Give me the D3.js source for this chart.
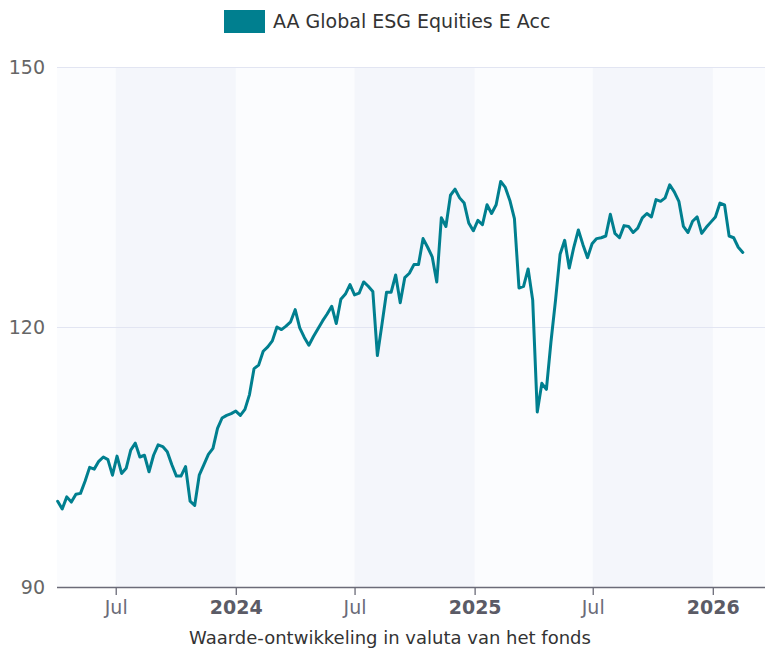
<!DOCTYPE html>
<html>
<head>
<meta charset="utf-8">
<script src="https://cdn.jsdelivr.net/npm/d3@7"></script>
<style>
  body { margin: 0; background: #ffffff; }
  text { font-family: "DejaVu Sans", sans-serif; }
</style>
</head>
<body>
<svg id="chart" width="765" height="652"></svg>
<script>
// Fund name shown in the legend
const seriesName = "AA Global ESG Equities E Acc";

// Weekly observations, first one on this date
const firstObservation = "2023-04-03";

// Indexed value of the fund, one per week
const values = [
  99.9, 99.0, 100.4, 99.8, 100.7, 100.8, 102.2, 103.8, 103.6, 104.5,
  105.0, 104.7, 102.9, 105.1, 103.1, 103.7, 105.8, 106.6, 105.0, 105.2,
  103.3, 105.2, 106.4, 106.2, 105.6, 104.1, 102.8, 102.8, 103.9, 99.9,
  99.4, 102.9, 104.1, 105.3, 106.0, 108.3, 109.5, 109.8, 110.0, 110.3,
  109.8, 110.5, 112.2, 115.2, 115.6, 117.2, 117.7, 118.4, 120.0, 119.7,
  120.1, 120.6, 122.0, 119.9, 118.8, 117.9, 118.9, 119.8, 120.7, 121.5,
  122.4, 120.4, 123.2, 123.8, 124.9, 123.7, 123.9, 125.2, 124.7, 124.1,
  116.7, 120.3, 124.0, 124.0, 126.0, 122.8, 125.7, 126.2, 127.2, 127.2,
  130.2, 129.2, 128.1, 125.2, 132.6, 131.6, 135.2, 135.9, 134.9, 134.3,
  132.0, 131.1, 132.3, 131.8, 134.1, 133.1, 134.1, 136.8, 136.1, 134.6,
  132.5, 124.5, 124.7, 126.7, 123.1, 110.2, 113.5, 112.8, 118.3, 123.1,
  128.4, 130.0, 126.8, 129.2, 131.2, 129.5, 128.0, 129.6, 130.2, 130.3,
  130.5, 133.0, 130.8, 130.3, 131.7, 131.6, 130.9, 131.4, 132.6, 133.1,
  132.7, 134.7, 134.5, 134.9, 136.4, 135.6, 134.5, 131.6, 130.9, 132.2,
  132.7, 130.8, 131.5, 132.1, 132.7, 134.3, 134.1, 130.5, 130.3, 129.2,
  128.6
];

// Axis ticks
const yTicks = [90, 120, 150];
const xTickDates = ["2023-07-01", "2024-01-01", "2024-07-01", "2025-01-01", "2025-07-01", "2026-01-01"];
const xTickLabels = ["Jul", "2024", "Jul", "2025", "Jul", "2026"];
const xTickBold = [false, true, false, true, false, true];

// Alternating half-year background bands
const bandStarts = ["2023-07-01", "2024-07-01", "2025-07-01"];
const bandEnds = ["2024-01-01", "2025-01-01", "2026-01-01"];

const axisTitle = "Waarde-ontwikkeling in valuta van het fonds";

// ---------------------------------------------------------------
const parse = d3.utcParse("%Y-%m-%d");
const start = parse(firstObservation);
const points = values.map((v, i) => ({ date: d3.utcDay.offset(start, 7 * i), value: v }));

const svg = d3.select("#chart");
const plot = { left: 57, right: 765, top: 67, bottom: 587 };

const x = d3.scaleUtc()
  .domain([parse("2023-04-02"), parse("2026-03-22")])
  .range([plot.left, plot.right]);

const y = d3.scaleLinear()
  .domain([90, 150])
  .range([plot.bottom, plot.top]);

const lineColor = "#007f8f";

// Plot background
svg.append("rect")
  .attr("x", plot.left).attr("y", plot.top)
  .attr("width", plot.right - plot.left).attr("height", plot.bottom - plot.top)
  .attr("fill", "#fbfcfe");

svg.append("g").selectAll("rect")
  .data(bandStarts.map((s, i) => [parse(s), parse(bandEnds[i])]))
  .join("rect")
  .attr("x", d => x(d[0]))
  .attr("y", plot.top)
  .attr("width", d => x(d[1]) - x(d[0]))
  .attr("height", plot.bottom - plot.top)
  .attr("fill", "#f4f6fb");

// Horizontal grid lines
svg.append("g").selectAll("line")
  .data(yTicks.filter(t => t !== 90))
  .join("line")
  .attr("x1", plot.left).attr("x2", plot.right)
  .attr("y1", d => y(d) + 0.5).attr("y2", d => y(d) + 0.5)
  .attr("stroke", "#e2e5f2").attr("stroke-width", 1);

// Y axis labels
const yAxis = d3.axisLeft(y).tickValues(yTicks).tickSize(0).tickPadding(12).tickFormat(d3.format("d"));
const gy = svg.append("g").attr("transform", `translate(${plot.left},0)`).call(yAxis);
gy.select(".domain").remove();
gy.selectAll("text")
  .attr("font-size", 19)
  .attr("font-family", "DejaVu Sans, sans-serif")
  .attr("fill", "#666666");

// X axis
const xAxis = d3.axisBottom(x)
  .tickValues(xTickDates.map(parse))
  .tickSize(8)
  .tickPadding(6)
  .tickFormat((d, i) => xTickLabels[i]);
const gx = svg.append("g").attr("transform", `translate(0,${plot.bottom})`).call(xAxis);
gx.select(".domain")
  .attr("stroke", "#6b6b78").attr("stroke-width", 1.5)
  .attr("d", `M${plot.left},0.5H${plot.right}`);
gx.selectAll(".tick line").attr("stroke", "#6b6b78").attr("stroke-width", 1.3);
gx.selectAll("text")
  .attr("font-size", 19)
  .attr("font-family", "DejaVu Sans, sans-serif")
  .attr("font-weight", (d, i) => xTickBold[i] ? "bold" : "normal")
  .attr("fill", (d, i) => xTickBold[i] ? "#5b5b66" : "#6b6b78");

// Axis title
svg.append("text")
  .attr("x", (plot.left + plot.right) / 2 - 21)
  .attr("y", 644)
  .attr("text-anchor", "middle")
  .attr("font-size", 18)
  .attr("fill", "#333333")
  .text(axisTitle);

// Series line
const line = d3.line()
  .x(d => x(d.date))
  .y(d => y(d.value))
  .curve(d3.curveLinear);

svg.append("path")
  .datum(points)
  .attr("d", line)
  .attr("fill", "none")
  .attr("stroke", lineColor)
  .attr("stroke-width", 3)
  .attr("stroke-linejoin", "round")
  .attr("stroke-linecap", "round");

// Legend
const legend = svg.append("g");
legend.append("rect")
  .attr("x", 224).attr("y", 10)
  .attr("width", 41).attr("height", 23)
  .attr("fill", lineColor);
legend.append("text")
  .attr("x", 273).attr("y", 28)
  .attr("font-size", 19)
  .attr("fill", "#333333")
  .text(seriesName);
</script>
</body>
</html>
